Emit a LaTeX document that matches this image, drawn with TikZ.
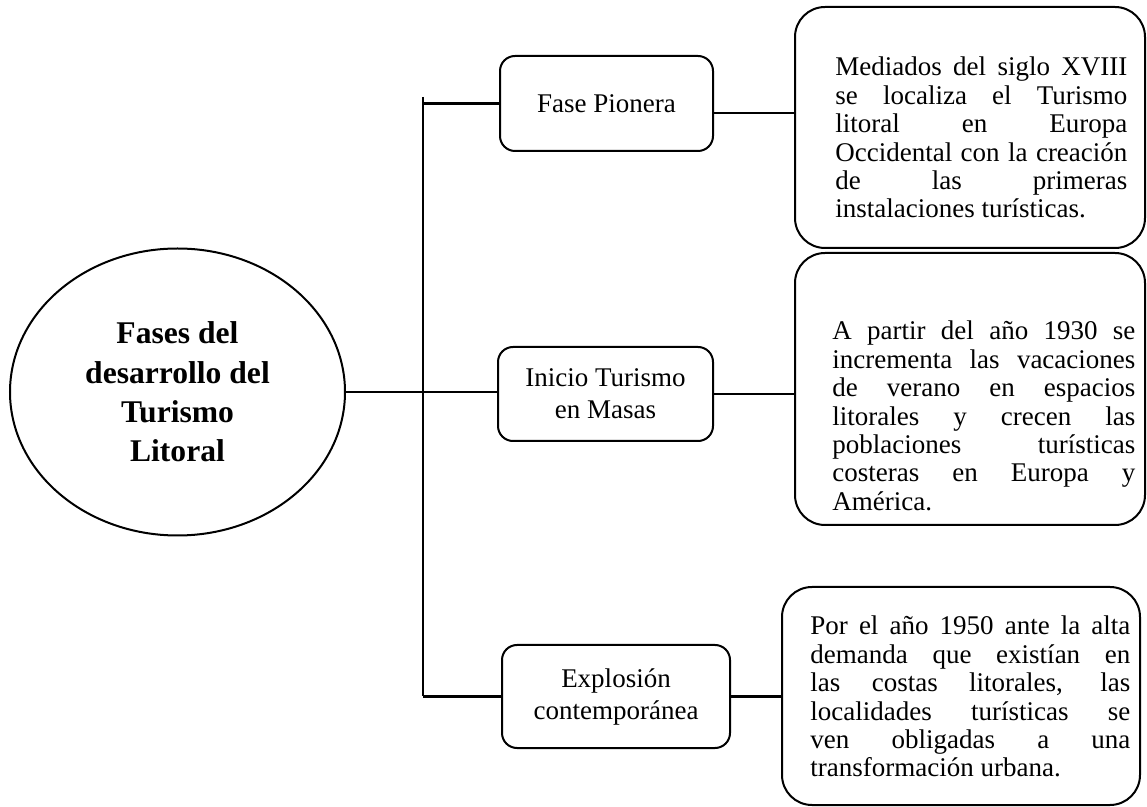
\documentclass[tikz,border=0pt]{standalone}
\usepackage{fontspec}
\setmainfont{Liberation Serif}
\usetikzlibrary{positioning,
        shapes.geometric}
\newcommand{\renglon}[1]{\noindent\makebox[\linewidth][s]{#1}\par}

\begin{document}
\begin{tikzpicture}[x=0.5pt,y=-0.5pt,
        tema/.style={ellipse,draw,line width=1pt,minimum width=167.5pt,minimum height=143.5pt,inner sep=0pt,align=center,font=\fontsize{15.8}{19.7}\selectfont\bfseries},
        fase/.style={rectangle,rounded corners=7.5pt,draw,line width=1pt,inner sep=0pt,align=center,font=\fontsize{13.5}{16}\selectfont},
        nota/.style={rectangle,rounded corners=15pt,draw,line width=1pt,minimum width=175pt,inner sep=0pt},
        texto/.style={anchor=base west,inner sep=0pt,align=justify,font=\fontsize{13.5}{14.2}\selectfont},
        rama/.style={line width=1.4pt}]
            \useasboundingbox (0,0) rectangle (1147,807);

            \node [tema] (tema) at (177.5,392) {Fases del\\desarrollo del\\Turismo\\Litoral};
            \node [fase,minimum width=106.5pt,minimum height=47.5pt] (fase1) at (606.5,103.5) {Fase Pionera};
            \node [fase,minimum width=107.5pt,minimum height=47pt] (fase2) at (605.5,394) {Inicio Turismo\\en Masas};
            \node [fase,minimum width=114pt,minimum height=51.5pt] (fase3) at (616,696.5) {Explosión\\contemporánea};

            \node [nota,minimum height=120.5pt] (notaA) at (970,127.5) {};
            \node [nota,minimum height=136pt] (notaB) at (970,389) {};
            \node [nota,minimum width=179pt,minimum height=109pt] (notaC) at (961,696) {};

            \node [texto,text width=146pt] (textoA) at (835,76) {\renglon{Mediados del siglo XVIII}\renglon{se localiza el Turismo}\renglon{litoral en Europa}\renglon{Occidental con la creación}\renglon{de las primeras}instalaciones turísticas.};
            \node [texto,text width=151.5pt] (textoB) at (832,340) {\renglon{A partir del año 1930 se}\renglon{incrementa las vacaciones}\renglon{de verano en espacios}\renglon{litorales y crecen las}\renglon{poblaciones turísticas}\renglon{costeras en Europa y}América.};
            \node [texto,text width=160pt] (textoC) at (810,635) {\renglon{Por el año 1950 ante la alta}\renglon{demanda que existían en}\renglon{las costas litorales, las}\renglon{localidades turísticas se}\renglon{ven obligadas a una}transformación urbana.};

            \coordinate (tronco) at (423,97);
            \coordinate (troncofin) at (423,696.5);

            \draw [line width=1pt] (tronco) -- (troncofin);
            \draw [line width=0.75pt] (tema.east) -- (tema.east -| tronco);
            \draw [rama] (tema.east -| tronco) -- (tema.east -| fase2.west);
            \draw [rama] (fase1.west -| tronco) -- (fase1.west);
            \draw [rama] (fase3.west -| tronco) -- (fase3.west);
            \draw [rama] ([yshift=-4.75pt]fase1.east) -- ([yshift=-4.75pt]fase1.east -| notaA.west);
            \draw [rama] (fase2.east) -- (fase2.east -| notaB.west);
            \draw [rama] (fase3.east) -- (fase3.east -| notaC.west);
        \end{tikzpicture}
\end{document}
